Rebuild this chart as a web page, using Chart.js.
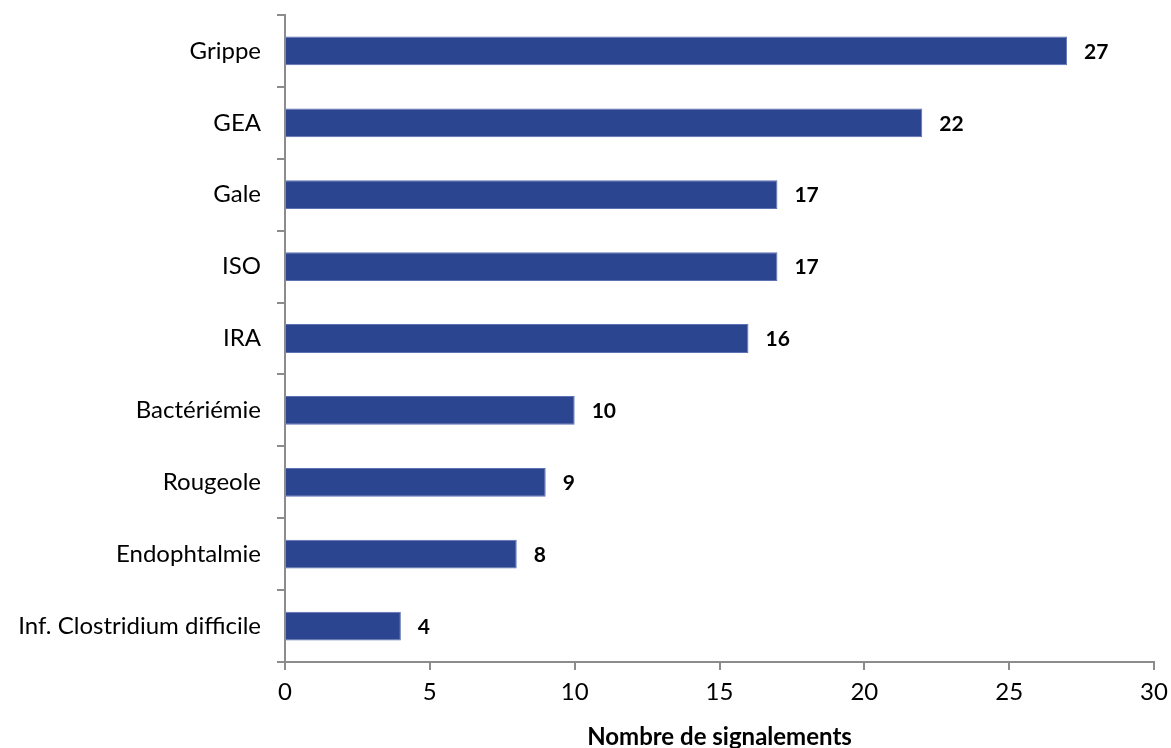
<!DOCTYPE html>
<html>
<head>
<meta charset="utf-8">
<script src="https://cdn.jsdelivr.net/npm/chart.js@4"></script>
<style>
  body { margin: 0; background: #fff; }
</style>
</head>
<body>
<canvas id="chart" width="1171" height="748"></canvas>
<script>
// ── Données ─────────────────────────────────────────────
const categories = [
    'Grippe', 'GEA', 'Gale', 'ISO', 'IRA',
    'Bactériémie', 'Rougeole', 'Endophtalmie', 'Inf. Clostridium difficile',
];
const signalements = [27, 22, 17, 17, 16, 10, 9, 8, 4];
const xTicks = [0, 5, 10, 15, 20, 25, 30];
const xTitle = 'Nombre de signalements';

// ── Style ───────────────────────────────────────────────
const FONT = 'Lato, "Open Sans", sans-serif';
const AXIS_GREY = '#8c8c8c';
const BAR_BLUE = '#2b4591';

// Étiquettes de valeur en gras à droite des barres
const valueLabels = {
    id: 'valueLabels',
    afterDatasetsDraw(chart) {
        const { ctx } = chart;
        const meta = chart.getDatasetMeta(0);
        ctx.save();
        ctx.font = `bold 21px ${FONT}`;
        ctx.fillStyle = '#000';
        ctx.textBaseline = 'middle';
        ctx.textAlign = 'left';
        meta.data.forEach((bar, i) => {
            ctx.fillText(String(signalements[i]), bar.x + 17, bar.y + 1);
        });
        ctx.restore();
    },
};

new Chart(document.getElementById('chart').getContext('2d'), {
    type: 'bar',
    data: {
        labels: categories,
        datasets: [{
            data: signalements,
            backgroundColor: BAR_BLUE,
            borderColor: '#5d72b3',
            borderWidth: 1,
            categoryPercentage: 1,
            barPercentage: 0.4,
        }],
    },
    options: {
        indexAxis: 'y',
        responsive: false,
        animation: false,
        layout: { padding: { top: 15, right: 17, left: 0, bottom: 0 } },
        plugins: {
            legend: { display: false },
            tooltip: { enabled: false },
        },
        scales: {
            x: {
                min: 0,
                max: 30,
                afterBuildTicks: scale => {
                    scale.ticks = xTicks.map(value => ({ value }));
                },
                afterFit: scale => {
                    scale.height = 86;
                    scale.paddingLeft = 0;
                    scale.paddingRight = 0;
                },
                grid: {
                    drawOnChartArea: false,
                    drawTicks: true,
                    tickLength: 8,
                    color: AXIS_GREY,
                    lineWidth: 2,
                },
                border: { color: AXIS_GREY, width: 2 },
                ticks: {
                    font: { family: FONT, size: 24 },
                    color: '#000',
                    padding: 8,
                },
                title: {
                    display: true,
                    text: xTitle,
                    font: { family: FONT, size: 24, weight: 'bold' },
                    color: '#000',
                    padding: { top: 14, bottom: -4 },
                },
            },
            y: {
                afterFit: scale => {
                    scale.width = 285;
                    scale.paddingTop = 0;
                    scale.paddingBottom = 0;
                },
                grid: {
                    offset: true,
                    drawOnChartArea: false,
                    drawTicks: true,
                    tickLength: 8,
                    color: AXIS_GREY,
                    lineWidth: 2,
                },
                border: { color: AXIS_GREY, width: 2 },
                ticks: {
                    font: { family: FONT, size: 24 },
                    color: '#000',
                    padding: 16,
                },
            },
        },
    },
    plugins: [valueLabels],
});
</script>
</body>
</html>
